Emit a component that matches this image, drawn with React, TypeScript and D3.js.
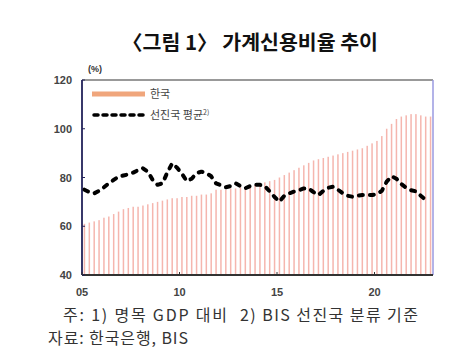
import React from 'react';
import * as d3 from 'd3';

// quarterly, 2005Q1 ~
const startYear = 2005;
const korea = [
  61, 61.5, 62, 62.5,
  63.5, 64, 65, 66,
  67, 67.5, 68, 68,
  68.5, 69, 69.5, 70,
  70.5, 71, 71.5, 71.5,
  72, 72, 72.5, 72.5,
  73, 73, 73.5, 75,
  75, 75, 75.5, 75.5,
  76, 76, 76.5, 77,
  77.5, 78, 78.5, 79,
  80, 81, 82, 83,
  84, 85, 86, 87,
  87.5, 88, 88.5, 89,
  89.5, 90, 90.5, 91,
  91.5, 92, 93, 94,
  95, 97, 100, 102,
  104, 105, 105.5, 106,
  106, 105.5, 105, 105
];
const advanced = [
  75, 74, 73.5, 74.5,
  76, 77.6, 79, 80.3,
  80.8, 81.3, 82, 83,
  83.8, 82.4, 79, 77,
  77.6, 82, 85.8, 84,
  81.5, 78.5, 79.5, 81.8,
  82.4, 81.8, 80.5, 77.6,
  76.8, 76, 76.5, 77.6,
  76.5, 75.6, 76.5, 77,
  77, 76.5, 74.3, 72,
  70.1, 72.5, 73.5, 74.2,
  74.8, 75.5, 75.5, 74,
  72.8, 74.5, 75.8, 76.2,
  75, 73.5, 72.5, 72.1,
  72.5, 72.8, 72.8, 72.8,
  73.2, 74.5, 78.3, 80.5,
  79.5, 77.3, 75.8, 74.8,
  74.3, 72.5, 70.8
];
const yTicks = [40, 60, 80, 100, 120];
const xTicks = [2005, 2010, 2015, 2020];
const xTickLabels = ['05', '10', '15', '20'];

const W = 473, H = 363;
const left = 82, right = 433, top = 80, bottom = 275;

export default function App() {
  const x = d3.scaleLinear().domain([2005, 2023]).range([left, right]);
  const y = d3.scaleLinear().domain([40, 120]).range([bottom, top]);
  const qx = (i: number) => x(startYear + i * 0.25 + 0.125);

  const line = d3.line<number>()
    .x((d, i) => qx(i))
    .y(d => y(d));

  const axisFont = 'Arial, "Liberation Sans", sans-serif';
  const kr = '"Noto Sans CJK KR", sans-serif';

  return (
    <svg width={W} height={H} style={{ position: 'absolute', left: 0, top: 0, background: '#fff' }}>
      <text x={250} y={50} textAnchor="middle" fontFamily={kr} fontSize={20} fontWeight={600} fill="#111"
        textLength={256} lengthAdjust="spacingAndGlyphs">
        〈그림 1〉 가계신용비율 추이
      </text>

      {/* bars */}
      {korea.map((v, i) => (
        <rect key={i} x={qx(i) - 0.75} y={y(v)} width={1.5} height={y(40) - y(v)} fill="#f3a9a0" opacity={0.85} />
      ))}

      {/* frame */}
      <line x1={left} x2={right} y1={top} y2={top} stroke="#777" strokeWidth={1.5} />
      <line x1={right} x2={right} y1={top} y2={bottom} stroke="#9a9ae0" strokeWidth={1.5} />
      <line x1={left} x2={left} y1={top} y2={bottom} stroke="#22225a" strokeWidth={1.8} />
      <line x1={left} x2={right} y1={bottom} y2={bottom} stroke="#333" strokeWidth={2} />

      {yTicks.map(t => (
        <g key={t}>
          <line x1={left} x2={left + 3} y1={y(t)} y2={y(t)} stroke="#22225a" strokeWidth={1} />
          <text x={left - 10} y={y(t) + 4} textAnchor="end" fontFamily={axisFont} fontSize={11} fontWeight="bold" fill="#444">{t}</text>
        </g>
      ))}
      {xTicks.map((t, i) => (
        <g key={t}>
          <line x1={x(t)} x2={x(t)} y1={bottom} y2={bottom - 3} stroke="#333" strokeWidth={1} />
          <text x={x(t)} y={bottom + 21} textAnchor="middle" fontFamily={axisFont} fontSize={11} fontWeight="bold" fill="#444">{xTickLabels[i]}</text>
        </g>
      ))}
      <text x={95} y={72} textAnchor="middle" fontFamily={axisFont} fontSize={9} fontWeight="bold" fill="#333">(%)</text>

      {/* advanced economies line */}
      <path d={line(advanced) || ''} fill="none" stroke="#000" strokeWidth={4} strokeDasharray="4,7" strokeLinecap="round" strokeLinejoin="round" />

      {/* legend */}
      <rect x={92} y={91.5} width={53} height={5} fill="#f0a67c" />
      <text x={150} y={98} fontFamily={kr} fontSize={11} fill="#444">한국</text>
      <line x1={94} x2={144} y1={115} y2={115} stroke="#000" strokeWidth={3.5} strokeDasharray="4,5" strokeLinecap="round" />
      <text x={150} y={118.5} fontFamily={kr} fontSize={11} fill="#444">
        선진국 평균<tspan dy={-4} fontSize={7}>2)</tspan>
      </text>

      <text x={63} y={321} fontFamily={kr} fontSize={16} fill="#333" textLength={164} lengthAdjust="spacing">주: 1) 명목 GDP 대비</text>
      <text x={240} y={321} fontFamily={kr} fontSize={16} fill="#333" textLength={178} lengthAdjust="spacing">2) BIS 선진국 분류 기준</text>
      <text x={48} y={344} fontFamily={kr} fontSize={16} fill="#333" textLength={140} lengthAdjust="spacing">자료: 한국은행, BIS</text>
    </svg>
  );
}
